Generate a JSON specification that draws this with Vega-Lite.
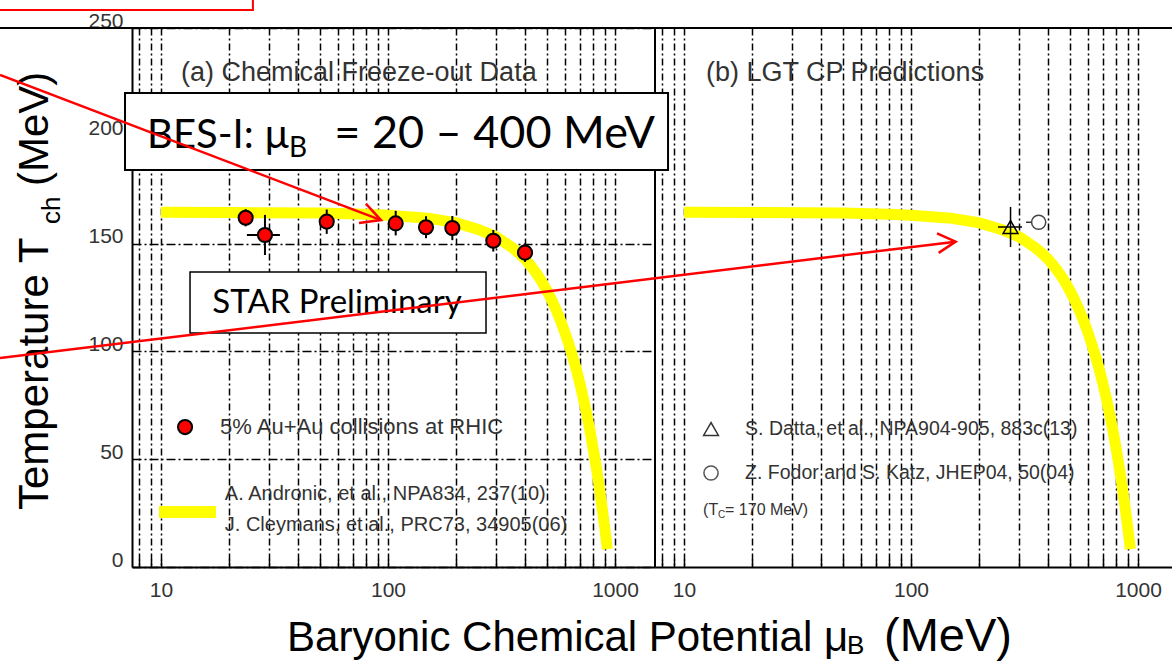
{
  "$schema": "https://vega.github.io/schema/vega-lite/v6.json",
  "width": 1040,
  "height": 539,
  "autosize": {"type": "none"},
  "padding": {"left": 132, "top": 28, "right": 0, "bottom": 95},
  "background": "white",
  "config": {"view": {"stroke": null}, "font": "Liberation Sans", "text": {"font": "Liberation Sans"}},
  "datasets": {
    "curve": [
      {"mu": 10, "T": 164.5}, {"mu": 20, "T": 164.4}, {"mu": 50, "T": 164.2}, {"mu": 80, "T": 163.6},
      {"mu": 100, "T": 163.2}, {"mu": 150, "T": 161.8}, {"mu": 200, "T": 159.6}, {"mu": 250, "T": 156.6},
      {"mu": 300, "T": 153.1}, {"mu": 350, "T": 148.4}, {"mu": 375, "T": 145.8}, {"mu": 400, "T": 143.0},
      {"mu": 425, "T": 139.8}, {"mu": 450, "T": 136.3}, {"mu": 475, "T": 132.5}, {"mu": 500, "T": 128.4},
      {"mu": 525, "T": 124.0}, {"mu": 550, "T": 119.3}, {"mu": 575, "T": 114.3}, {"mu": 600, "T": 109.1},
      {"mu": 625, "T": 103.6}, {"mu": 650, "T": 97.8}, {"mu": 675, "T": 91.7}, {"mu": 700, "T": 85.2},
      {"mu": 725, "T": 78.3}, {"mu": 750, "T": 71.0}, {"mu": 775, "T": 63.4}, {"mu": 800, "T": 55.3},
      {"mu": 825, "T": 46.9}, {"mu": 850, "T": 37.9}, {"mu": 875, "T": 28.5}, {"mu": 900, "T": 18.6},
      {"mu": 925, "T": 8.3}
    ],
    "pts": [
      {"mu": 23.6, "T": 162.0, "Tlo": 158.0, "Thi": 166.0},
      {"mu": 28.7, "T": 154.0, "Tlo": 144.7, "Thi": 163.3},
      {"mu": 53.7, "T": 160.2, "Tlo": 154.5, "Thi": 165.8},
      {"mu": 108.1, "T": 159.4, "Tlo": 153.8, "Thi": 165.2},
      {"mu": 147.0, "T": 157.6, "Tlo": 152.5, "Thi": 162.7},
      {"mu": 192.0, "T": 157.2, "Tlo": 151.6, "Thi": 162.8},
      {"mu": 290.9, "T": 151.3, "Tlo": 146.3, "Thi": 156.3},
      {"mu": 401.3, "T": 145.8, "Tlo": 141.5, "Thi": 150.1}
    ],
    "hbarA": [{"mu1": 23.9, "mu2": 33.4, "T": 154.0}],
    "tri": [{"mu": 274.4, "T": 157.7, "Tlo": 148.4, "Thi": 167.0, "mu1": 241.6, "mu2": 308.3}],
    "circ": [{"mu": 365, "T": 159.9, "mu1": 321, "mu2": 365}],
    "legA": [
      {"label": "A. Andronic, et al., NPA834, 237(10)", "mu": 19.1, "T": 33.9},
      {"label": "J. Cleymans, et al., PRC73, 34905(06)", "mu": 19.1, "T": 19.5}
    ],
    "legB": [
      {"label": "S. Datta, et al., NPA904-905, 883c(13)", "mu": 18.57, "T": 64.0},
      {"label": "Z. Fodor and S. Katz, JHEP04, 50(04)", "mu": 18.57, "T": 43.6}
    ],
    "arrows": [
      {"id": "s1", "o": 0, "mu": 1.953, "T": 228.2}, {"id": "s1", "o": 1, "mu": 93.1, "T": 160.9},
      {"id": "h1", "o": 0, "mu": 80.0, "T": 168.4}, {"id": "h1", "o": 1, "mu": 93.1, "T": 160.9}, {"id": "h1", "o": 2, "mu": 74.5, "T": 159.6},
      {"id": "s2", "o": 0, "mu": 1.953, "T": 96.9}, {"id": "s2", "o": 1, "mu": 31650, "T": 150.9},
      {"id": "h2", "o": 0, "mu": 26210, "T": 154.7}, {"id": "h2", "o": 1, "mu": 31650, "T": 150.9}, {"id": "h2", "o": 2, "mu": 26650, "T": 145.7}
    ]
  },
  "resolve": {"scale": {"x": "independent"}, "axis": {"x": "independent", "y": "independent"}},
  "layer": [
    {
      "data": {"name": "curve"},
      "mark": {"type": "line", "color": "#ffff00", "strokeWidth": 11, "strokeCap": "butt"},
      "encoding": {
        "x": {"field": "mu", "type": "quantitative",
          "scale": {"type": "log", "domain": [7.45, 1500], "range": [0, 523], "nice": false},
          "axis": {"orient": "bottom", "title": null,
            "values": [8, 9, 10, 20, 30, 40, 50, 60, 70, 80, 90, 100, 200, 300, 400, 500, 600, 700, 800, 900, 1000],
            "format": "d",
            "labelExpr": "datum.value == 10 || datum.value == 100 || datum.value == 1000 ? datum.label : ''",
            "grid": true, "gridColor": "black", "gridDash": [7, 3, 2, 3], "gridWidth": 1.5, "gridOpacity": 1,
            "domainColor": "black", "domainWidth": 2,
            "ticks": true, "tickSize": -8, "tickColor": "black", "tickWidth": 1.5,
            "labelFont": "Liberation Sans", "labelFontSize": 21, "labelColor": "#333", "labelPadding": 20,
            "labelFlush": false, "labelOverlap": false}},
        "y": {"field": "T", "type": "quantitative",
          "scale": {"domain": [0, 250], "nice": false},
          "axis": {"orient": "left", "title": null, "values": [0, 50, 100, 150, 200, 250],
            "grid": true, "gridColor": "black", "gridDash": [9, 3, 2, 3], "gridWidth": 1.5, "gridOpacity": 1,
            "domainColor": "black", "domainWidth": 2, "ticks": false,
            "labelFont": "Liberation Sans", "labelFontSize": 21, "labelColor": "#333", "labelPadding": 9,
            "labelOffset": -7, "labelFlush": false, "labelOverlap": false}}
      }
    },
    {
      "data": {"name": "curve"},
      "mark": {"type": "line", "color": "#ffff00", "strokeWidth": 11, "strokeCap": "butt"},
      "encoding": {
        "x": {"field": "mu", "type": "quantitative",
          "scale": {"type": "log", "domain": [7.45, 1500], "range": [523, 1046], "nice": false},
          "axis": {"orient": "bottom", "title": null,
            "values": [8, 9, 10, 20, 30, 40, 50, 60, 70, 80, 90, 100, 200, 300, 400, 500, 600, 700, 800, 900, 1000],
            "format": "d",
            "labelExpr": "datum.value == 10 || datum.value == 100 || datum.value == 1000 ? datum.label : ''",
            "grid": true, "gridColor": "black", "gridDash": [7, 3, 2, 3], "gridWidth": 1.5, "gridOpacity": 1,
            "domainColor": "black", "domainWidth": 2,
            "ticks": true, "tickSize": -8, "tickColor": "black", "tickWidth": 1.5,
            "labelFont": "Liberation Sans", "labelFontSize": 21, "labelColor": "#333", "labelPadding": 20,
            "labelFlush": false, "labelOverlap": false}},
        "y": {"field": "T", "type": "quantitative", "scale": {"domain": [0, 250], "nice": false}, "axis": null}
      }
    },
    {
      "data": {"name": "pts"},
      "mark": {"type": "rule", "color": "black", "strokeWidth": 2},
      "encoding": {
        "x": {"field": "mu", "type": "quantitative", "scale": {"type": "log", "domain": [7.45, 1500], "range": [0, 523], "nice": false}, "axis": null},
        "y": {"field": "Tlo", "type": "quantitative", "scale": {"domain": [0, 250], "nice": false}, "axis": null},
        "y2": {"field": "Thi"}
      }
    },
    {
      "data": {"name": "hbarA"},
      "mark": {"type": "rule", "color": "black", "strokeWidth": 2},
      "encoding": {
        "x": {"field": "mu1", "type": "quantitative", "scale": {"type": "log", "domain": [7.45, 1500], "range": [0, 523], "nice": false}, "axis": null},
        "x2": {"field": "mu2"},
        "y": {"field": "T", "type": "quantitative", "scale": {"domain": [0, 250], "nice": false}, "axis": null}
      }
    },
    {
      "data": {"name": "pts"},
      "mark": {"type": "point", "shape": "circle", "filled": true, "fill": "#ff0000", "stroke": "black", "strokeWidth": 2, "size": 200, "opacity": 1},
      "encoding": {
        "x": {"field": "mu", "type": "quantitative", "scale": {"type": "log", "domain": [7.45, 1500], "range": [0, 523], "nice": false}, "axis": null},
        "y": {"field": "T", "type": "quantitative", "scale": {"domain": [0, 250], "nice": false}, "axis": null}
      }
    },
    {
      "data": {"values": [{"mu": 12.76, "T": 64.9}]},
      "mark": {"type": "point", "shape": "circle", "filled": true, "fill": "#ff0000", "stroke": "black", "strokeWidth": 2, "size": 200, "opacity": 1},
      "encoding": {
        "x": {"field": "mu", "type": "quantitative", "scale": {"type": "log", "domain": [7.45, 1500], "range": [0, 523], "nice": false}, "axis": null},
        "y": {"field": "T", "type": "quantitative", "scale": {"domain": [0, 250], "nice": false}, "axis": null}
      }
    },
    {
      "data": {"values": [{"mu": 9.8, "mu2": 17.47, "T": 25.5}]},
      "mark": {"type": "rule", "color": "#ffff00", "strokeWidth": 12, "strokeCap": "butt"},
      "encoding": {
        "x": {"field": "mu", "type": "quantitative", "scale": {"type": "log", "domain": [7.45, 1500], "range": [0, 523], "nice": false}, "axis": null},
        "x2": {"field": "mu2"},
        "y": {"field": "T", "type": "quantitative", "scale": {"domain": [0, 250], "nice": false}, "axis": null}
      }
    },
    {
      "data": {"values": [{"label": "5% Au+Au collisions at RHIC", "mu": 18.2, "T": 64.9}]},
      "mark": {"type": "text", "align": "left", "baseline": "middle", "fontSize": 22, "color": "#333"},
      "encoding": {
        "x": {"field": "mu", "type": "quantitative", "scale": {"type": "log", "domain": [7.45, 1500], "range": [0, 523], "nice": false}, "axis": null},
        "y": {"field": "T", "type": "quantitative", "scale": {"domain": [0, 250], "nice": false}, "axis": null},
        "text": {"field": "label"}
      }
    },
    {
      "data": {"name": "legA"},
      "mark": {"type": "text", "align": "left", "baseline": "middle", "fontSize": 20, "color": "#333"},
      "encoding": {
        "x": {"field": "mu", "type": "quantitative", "scale": {"type": "log", "domain": [7.45, 1500], "range": [0, 523], "nice": false}, "axis": null},
        "y": {"field": "T", "type": "quantitative", "scale": {"domain": [0, 250], "nice": false}, "axis": null},
        "text": {"field": "label"}
      }
    },
    {
      "data": {"values": [{"label": "(a) Chemical Freeze-out Data", "mu": 12.25, "T": 229.1}]},
      "mark": {"type": "text", "align": "left", "baseline": "middle", "fontSize": 27, "color": "#333"},
      "encoding": {
        "x": {"field": "mu", "type": "quantitative", "scale": {"type": "log", "domain": [7.45, 1500], "range": [0, 523], "nice": false}, "axis": null},
        "y": {"field": "T", "type": "quantitative", "scale": {"domain": [0, 250], "nice": false}, "axis": null},
        "text": {"field": "label"}
      }
    },
    {
      "data": {"values": [{"mu1": 1, "mu2": 1000000, "T": 250}]},
      "mark": {"type": "rule", "color": "black", "strokeWidth": 2},
      "encoding": {
        "x": {"field": "mu1", "type": "quantitative", "scale": {"type": "log", "domain": [7.45, 1500], "range": [0, 523], "nice": false}, "axis": null},
        "x2": {"field": "mu2"},
        "y": {"field": "T", "type": "quantitative", "scale": {"domain": [0, 250], "nice": false}, "axis": null}
      }
    },
    {
      "data": {"values": [{"mu": 1500, "T1": 0, "T2": 250}]},
      "mark": {"type": "rule", "color": "black", "strokeWidth": 2},
      "encoding": {
        "x": {"field": "mu", "type": "quantitative", "scale": {"type": "log", "domain": [7.45, 1500], "range": [0, 523], "nice": false}, "axis": null},
        "y": {"field": "T1", "type": "quantitative", "scale": {"domain": [0, 250], "nice": false}, "axis": null},
        "y2": {"field": "T2"}
      }
    },
    {
      "data": {"values": [{"mu1": 6.94, "mu2": 1712, "T1": 219.9, "T2": 184.1}]},
      "mark": {"type": "rect", "fill": "white", "stroke": "black", "strokeWidth": 2},
      "encoding": {
        "x": {"field": "mu1", "type": "quantitative", "scale": {"type": "log", "domain": [7.45, 1500], "range": [0, 523], "nice": false}, "axis": null},
        "x2": {"field": "mu2"},
        "y": {"field": "T1", "type": "quantitative", "scale": {"domain": [0, 250], "nice": false}, "axis": null},
        "y2": {"field": "T2"}
      }
    },
    {
      "data": {"values": [{"label": "BES-I: µ", "mu": 8.68, "T": 194.3}]},
      "mark": {"type": "text", "align": "left", "baseline": "alphabetic", "fontSize": 40, "font": "Lato", "color": "black"},
      "encoding": {
        "x": {"field": "mu", "type": "quantitative", "scale": {"type": "log", "domain": [7.45, 1500], "range": [0, 523], "nice": false}, "axis": null},
        "y": {"field": "T", "type": "quantitative", "scale": {"domain": [0, 250], "nice": false}, "axis": null},
        "text": {"field": "label"}
      }
    },
    {
      "data": {"values": [{"label": "B", "mu": 36.6, "T": 190.2}]},
      "mark": {"type": "text", "align": "left", "baseline": "alphabetic", "fontSize": 28, "font": "Lato", "color": "black"},
      "encoding": {
        "x": {"field": "mu", "type": "quantitative", "scale": {"type": "log", "domain": [7.45, 1500], "range": [0, 523], "nice": false}, "axis": null},
        "y": {"field": "T", "type": "quantitative", "scale": {"domain": [0, 250], "nice": false}, "axis": null},
        "text": {"field": "label"}
      }
    },
    {
      "data": {"values": [{"label": "= 20 – 400 MeV", "mu": 1500, "T": 194.3}]},
      "mark": {"type": "text", "align": "right", "baseline": "alphabetic", "fontSize": 45, "font": "Lato", "color": "black"},
      "encoding": {
        "x": {"field": "mu", "type": "quantitative", "scale": {"type": "log", "domain": [7.45, 1500], "range": [0, 523], "nice": false}, "axis": null},
        "y": {"field": "T", "type": "quantitative", "scale": {"domain": [0, 250], "nice": false}, "axis": null},
        "text": {"field": "label"}
      }
    },
    {
      "data": {"values": [{"mu1": 13.42, "mu2": 270.2, "T1": 136.8, "T2": 108.5}]},
      "mark": {"type": "rect", "fill": "white", "stroke": "black", "strokeWidth": 1.5},
      "encoding": {
        "x": {"field": "mu1", "type": "quantitative", "scale": {"type": "log", "domain": [7.45, 1500], "range": [0, 523], "nice": false}, "axis": null},
        "x2": {"field": "mu2"},
        "y": {"field": "T1", "type": "quantitative", "scale": {"domain": [0, 250], "nice": false}, "axis": null},
        "y2": {"field": "T2"}
      }
    },
    {
      "data": {"values": [{"label": "STAR Preliminary", "mu": 59.6, "T": 122.4}]},
      "mark": {"type": "text", "align": "center", "baseline": "middle", "fontSize": 33, "font": "Lato", "color": "black"},
      "encoding": {
        "x": {"field": "mu", "type": "quantitative", "scale": {"type": "log", "domain": [7.45, 1500], "range": [0, 523], "nice": false}, "axis": null},
        "y": {"field": "T", "type": "quantitative", "scale": {"domain": [0, 250], "nice": false}, "axis": null},
        "text": {"field": "label"}
      }
    },
    {
      "data": {"values": [{"label": "Temperature T", "mu": 3.178, "T": 26.44}, {"label": "(MeV)", "mu": 3.178, "T": 176.7}]},
      "mark": {"type": "text", "align": "left", "baseline": "alphabetic", "angle": 270, "fontSize": 42, "color": "black"},
      "encoding": {
        "x": {"field": "mu", "type": "quantitative", "scale": {"type": "log", "domain": [7.45, 1500], "range": [0, 523], "nice": false}, "axis": null},
        "y": {"field": "T", "type": "quantitative", "scale": {"domain": [0, 250], "nice": false}, "axis": null},
        "text": {"field": "label"}
      }
    },
    {
      "data": {"values": [{"label": "ch", "mu": 3.589, "T": 159.1}]},
      "mark": {"type": "text", "align": "left", "baseline": "alphabetic", "angle": 270, "fontSize": 26, "color": "black"},
      "encoding": {
        "x": {"field": "mu", "type": "quantitative", "scale": {"type": "log", "domain": [7.45, 1500], "range": [0, 523], "nice": false}, "axis": null},
        "y": {"field": "T", "type": "quantitative", "scale": {"domain": [0, 250], "nice": false}, "axis": null},
        "text": {"field": "label"}
      }
    },
    {
      "data": {"values": [{"label": "Baryonic Chemical Potential μ", "mu": 35.9, "T": -38.96}]},
      "mark": {"type": "text", "align": "left", "baseline": "alphabetic", "fontSize": 42, "color": "black"},
      "encoding": {
        "x": {"field": "mu", "type": "quantitative", "scale": {"type": "log", "domain": [7.45, 1500], "range": [0, 523], "nice": false}, "axis": null},
        "y": {"field": "T", "type": "quantitative", "scale": {"domain": [0, 250], "nice": false}, "axis": null},
        "text": {"field": "label"}
      }
    },
    {
      "data": {"values": [{"label": "(MeV)", "mu": 15310, "T": -38.96}]},
      "mark": {"type": "text", "align": "left", "baseline": "alphabetic", "fontSize": 47, "color": "black"},
      "encoding": {
        "x": {"field": "mu", "type": "quantitative", "scale": {"type": "log", "domain": [7.45, 1500], "range": [0, 523], "nice": false}, "axis": null},
        "y": {"field": "T", "type": "quantitative", "scale": {"domain": [0, 250], "nice": false}, "axis": null},
        "text": {"field": "label"}
      }
    },
    {
      "data": {"values": [{"label": "B", "mu": 10520, "T": -40.35}]},
      "mark": {"type": "text", "align": "left", "baseline": "alphabetic", "fontSize": 26, "color": "black"},
      "encoding": {
        "x": {"field": "mu", "type": "quantitative", "scale": {"type": "log", "domain": [7.45, 1500], "range": [0, 523], "nice": false}, "axis": null},
        "y": {"field": "T", "type": "quantitative", "scale": {"domain": [0, 250], "nice": false}, "axis": null},
        "text": {"field": "label"}
      }
    },
    {
      "data": {"values": [{"mu1": 1.765, "mu2": 25.4, "T1": 267.6, "T2": 258.3}]},
      "mark": {"type": "rect", "fill": "white", "fillOpacity": 0, "stroke": "#ff0000", "strokeWidth": 2},
      "encoding": {
        "x": {"field": "mu1", "type": "quantitative", "scale": {"type": "log", "domain": [7.45, 1500], "range": [0, 523], "nice": false}, "axis": null},
        "x2": {"field": "mu2"},
        "y": {"field": "T1", "type": "quantitative", "scale": {"domain": [0, 250], "nice": false}, "axis": null},
        "y2": {"field": "T2"}
      }
    },
    {
      "data": {"name": "arrows"},
      "mark": {"type": "line", "color": "#ff0000", "strokeWidth": 2.5},
      "encoding": {
        "x": {"field": "mu", "type": "quantitative", "scale": {"type": "log", "domain": [7.45, 1500], "range": [0, 523], "nice": false}, "axis": null},
        "y": {"field": "T", "type": "quantitative", "scale": {"domain": [0, 250], "nice": false}, "axis": null},
        "detail": {"field": "id"},
        "order": {"field": "o"}
      }
    },
    {
      "data": {"name": "tri"},
      "mark": {"type": "rule", "color": "black", "strokeWidth": 1.5},
      "encoding": {
        "x": {"field": "mu", "type": "quantitative", "scale": {"type": "log", "domain": [7.45, 1500], "range": [523, 1046], "nice": false}, "axis": null},
        "y": {"field": "Tlo", "type": "quantitative", "scale": {"domain": [0, 250], "nice": false}, "axis": null},
        "y2": {"field": "Thi"}
      }
    },
    {
      "data": {"name": "tri"},
      "mark": {"type": "rule", "color": "black", "strokeWidth": 1.5},
      "encoding": {
        "x": {"field": "mu1", "type": "quantitative", "scale": {"type": "log", "domain": [7.45, 1500], "range": [523, 1046], "nice": false}, "axis": null},
        "x2": {"field": "mu2"},
        "y": {"field": "T", "type": "quantitative", "scale": {"domain": [0, 250], "nice": false}, "axis": null}
      }
    },
    {
      "data": {"name": "circ"},
      "mark": {"type": "rule", "color": "#333", "strokeWidth": 1.5},
      "encoding": {
        "x": {"field": "mu1", "type": "quantitative", "scale": {"type": "log", "domain": [7.45, 1500], "range": [523, 1046], "nice": false}, "axis": null},
        "x2": {"field": "mu2"},
        "y": {"field": "T", "type": "quantitative", "scale": {"domain": [0, 250], "nice": false}, "axis": null}
      }
    },
    {
      "data": {"name": "tri"},
      "mark": {"type": "point", "shape": "triangle-up", "filled": false, "stroke": "black", "strokeWidth": 1.5, "size": 220, "opacity": 1},
      "encoding": {
        "x": {"field": "mu", "type": "quantitative", "scale": {"type": "log", "domain": [7.45, 1500], "range": [523, 1046], "nice": false}, "axis": null},
        "y": {"field": "T", "type": "quantitative", "scale": {"domain": [0, 250], "nice": false}, "axis": null}
      }
    },
    {
      "data": {"name": "circ"},
      "mark": {"type": "point", "shape": "circle", "filled": true, "fill": "white", "stroke": "#444", "strokeWidth": 1.5, "size": 200, "opacity": 1},
      "encoding": {
        "x": {"field": "mu", "type": "quantitative", "scale": {"type": "log", "domain": [7.45, 1500], "range": [523, 1046], "nice": false}, "axis": null},
        "y": {"field": "T", "type": "quantitative", "scale": {"domain": [0, 250], "nice": false}, "axis": null}
      }
    },
    {
      "data": {"values": [{"mu": 13.15, "T": 64.0}]},
      "mark": {"type": "point", "shape": "triangle-up", "filled": false, "stroke": "#333", "strokeWidth": 1.5, "size": 220, "opacity": 1},
      "encoding": {
        "x": {"field": "mu", "type": "quantitative", "scale": {"type": "log", "domain": [7.45, 1500], "range": [523, 1046], "nice": false}, "axis": null},
        "y": {"field": "T", "type": "quantitative", "scale": {"domain": [0, 250], "nice": false}, "axis": null}
      }
    },
    {
      "data": {"values": [{"mu": 13.15, "T": 43.6}]},
      "mark": {"type": "point", "shape": "circle", "filled": false, "stroke": "#555", "strokeWidth": 1.5, "size": 200, "opacity": 1},
      "encoding": {
        "x": {"field": "mu", "type": "quantitative", "scale": {"type": "log", "domain": [7.45, 1500], "range": [523, 1046], "nice": false}, "axis": null},
        "y": {"field": "T", "type": "quantitative", "scale": {"domain": [0, 250], "nice": false}, "axis": null}
      }
    },
    {
      "data": {"name": "legB"},
      "mark": {"type": "text", "align": "left", "baseline": "middle", "fontSize": 19.5, "color": "#333"},
      "encoding": {
        "x": {"field": "mu", "type": "quantitative", "scale": {"type": "log", "domain": [7.45, 1500], "range": [523, 1046], "nice": false}, "axis": null},
        "y": {"field": "T", "type": "quantitative", "scale": {"domain": [0, 250], "nice": false}, "axis": null},
        "text": {"field": "label"}
      }
    },
    {
      "data": {"values": [{"label": "(T", "mu": 12.13, "T": 24.1}, {"label": "= 170 MeV)", "mu": 15.16, "T": 24.1}]},
      "mark": {"type": "text", "align": "left", "baseline": "alphabetic", "fontSize": 16, "color": "#333"},
      "encoding": {
        "x": {"field": "mu", "type": "quantitative", "scale": {"type": "log", "domain": [7.45, 1500], "range": [523, 1046], "nice": false}, "axis": null},
        "y": {"field": "T", "type": "quantitative", "scale": {"domain": [0, 250], "nice": false}, "axis": null},
        "text": {"field": "label"}
      }
    },
    {
      "data": {"values": [{"label": "C", "mu": 14.11, "T": 22.7}]},
      "mark": {"type": "text", "align": "left", "baseline": "alphabetic", "fontSize": 10, "color": "#333"},
      "encoding": {
        "x": {"field": "mu", "type": "quantitative", "scale": {"type": "log", "domain": [7.45, 1500], "range": [523, 1046], "nice": false}, "axis": null},
        "y": {"field": "T", "type": "quantitative", "scale": {"domain": [0, 250], "nice": false}, "axis": null},
        "text": {"field": "label"}
      }
    },
    {
      "data": {"values": [{"label": "(b) LGT CP Predictions", "mu": 12.5, "T": 229.1}]},
      "mark": {"type": "text", "align": "left", "baseline": "middle", "fontSize": 27, "color": "#333"},
      "encoding": {
        "x": {"field": "mu", "type": "quantitative", "scale": {"type": "log", "domain": [7.45, 1500], "range": [523, 1046], "nice": false}, "axis": null},
        "y": {"field": "T", "type": "quantitative", "scale": {"domain": [0, 250], "nice": false}, "axis": null},
        "text": {"field": "label"}
      }
    }
  ]
}
